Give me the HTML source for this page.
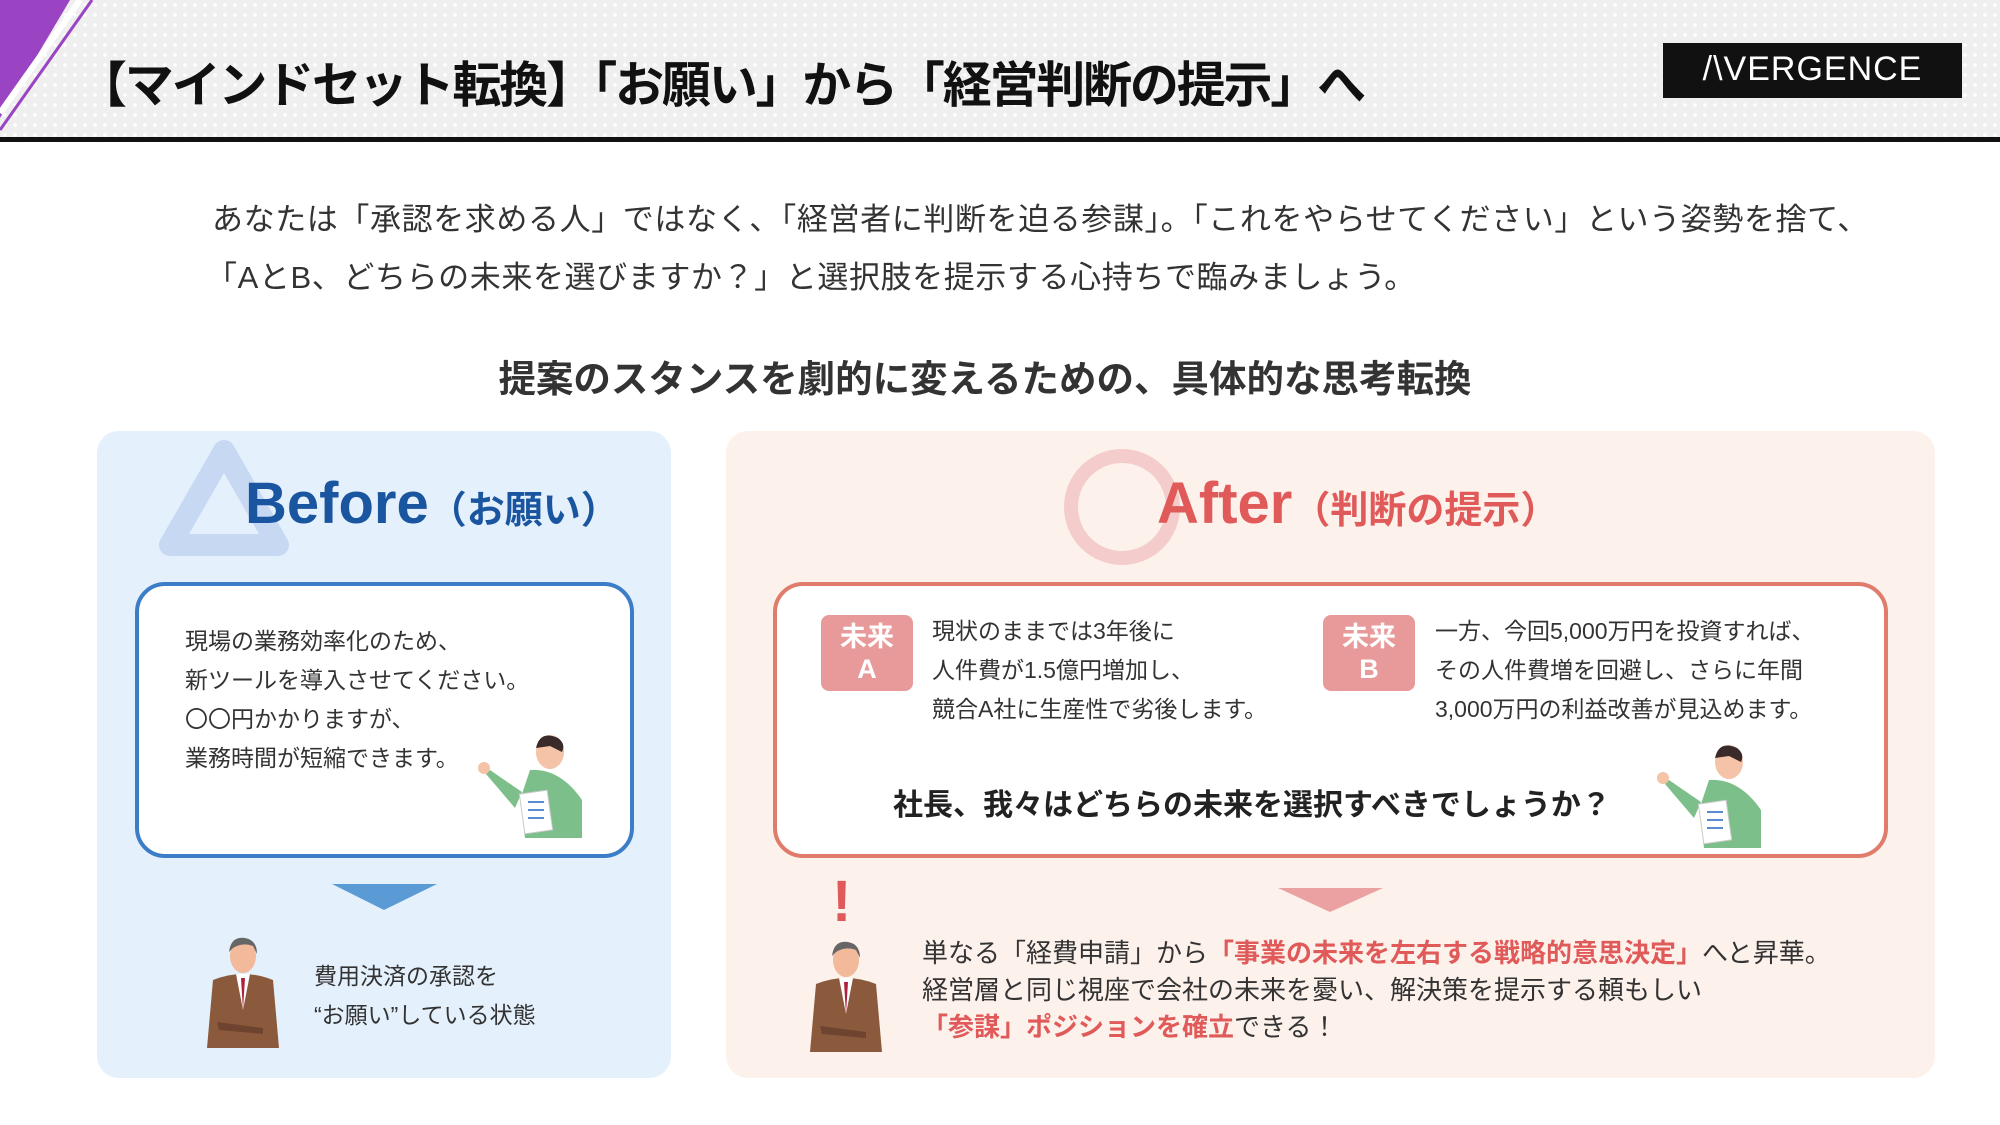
<!DOCTYPE html>
<html><head><meta charset="utf-8"><style>
*{margin:0;padding:0;box-sizing:border-box}
body{width:2000px;height:1125px;position:relative;background:#fff;font-family:"Liberation Sans","Noto Sans CJK JP",sans-serif;overflow:hidden;color:#333}
.abs{position:absolute;white-space:nowrap}
#hdr{position:absolute;left:0;top:0;width:2000px;height:138px;background-color:#efeff0;background-image:radial-gradient(circle,#fff 1.6px,transparent 2px);background-size:10px 10px}
#line{position:absolute;left:0;top:137px;width:2000px;height:5px;background:#111}
.panel{position:absolute;border-radius:22px}
.wbox{position:absolute;background:#fff;border-radius:30px}
.badge{position:absolute;width:92px;height:76px;background:#e89a9a;border-radius:8px;color:#fff;font-weight:bold;font-size:27px;line-height:32px;text-align:center;padding-top:6px}
.red{color:#e05a5a;font-weight:bold}
</style></head><body>
<div id="hdr"></div>
<svg class="abs" style="left:0;top:0" width="100" height="140"><polygon points="0,0 70,0 0,118" fill="#9a44c4"/><line x1="92" y1="0" x2="0" y2="130" stroke="#9a44c4" stroke-width="3"/><line x1="80" y1="0" x2="0" y2="113" stroke="#fff" stroke-width="6"/></svg>
<div id="line"></div>
<div class="abs" style="left:78px;top:46px;font-size:49px;font-weight:bold;color:#111;letter-spacing:-2.2px">【マインドセット転換】「お願い」から「経営判断の提示」へ</div>
<div class="abs" style="left:1663px;top:43px;width:299px;height:55px;background:#111;color:#fff;font-size:34px;line-height:52px;text-align:center;letter-spacing:1px">/\VERGENCE</div>

<div class="abs" style="left:212px;top:194px;font-size:31px;letter-spacing:0.6px;color:#333">あなたは「承認を求める人」ではなく、「経営者に判断を迫る参謀」。「これをやらせてください」という姿勢を捨て、</div>
<div class="abs" style="left:206px;top:252px;font-size:31px;letter-spacing:0.6px;color:#333">「AとB、どちらの未来を選びますか？」と選択肢を提示する心持ちで臨みましょう。</div>
<div class="abs" style="left:0;width:1970px;text-align:center;top:348px;font-size:37.5px;font-weight:bold;color:#333">提案のスタンスを劇的に変えるための、具体的な思考転換</div>

<div class="panel" style="left:97px;top:431px;width:574px;height:647px;background:#e4f0fb"></div>
<div class="panel" style="left:726px;top:431px;width:1209px;height:647px;background:#fdf1ec"></div>

<svg class="abs" style="left:150px;top:435px" width="150" height="125"><polygon points="74,16 20,110 128,110" fill="none" stroke="#c7d8f3" stroke-width="22" stroke-linejoin="round"/></svg>
<div class="abs" style="left:245px;top:470px;color:#1a55a0;font-weight:bold"><span style="font-size:58px">Before</span><span style="font-size:38px">（お願い）</span></div>

<svg class="abs" style="left:1060px;top:445px" width="125" height="125"><circle cx="62" cy="62" r="51" fill="none" stroke="#f4cccc" stroke-width="14"/></svg>
<div class="abs" style="left:1157px;top:470px;color:#e05a5a;font-weight:bold"><span style="font-size:58px">After</span><span style="font-size:38px">（判断の提示）</span></div>

<div class="wbox" style="left:135px;top:582px;width:499px;height:276px;border:4px solid #3c7dc7"></div>
<div class="abs" style="left:185px;top:622px;font-size:23px;line-height:39px;color:#333">現場の業務効率化のため、<br>新ツールを導入させてください。<br>〇〇円かかりますが、<br>業務時間が短縮できます。</div>

<div class="wbox" style="left:773px;top:582px;width:1115px;height:276px;border:4px solid #df7c6c"></div>
<div class="badge" style="left:821px;top:615px">未来<br>A</div>
<div class="badge" style="left:1323px;top:615px">未来<br>B</div>
<div class="abs" style="left:932px;top:612px;font-size:23px;line-height:39px;color:#333">現状のままでは3年後に<br>人件費が1.5億円増加し、<br>競合A社に生産性で劣後します。</div>
<div class="abs" style="left:1435px;top:612px;font-size:23px;line-height:39px;color:#333">一方、今回5,000万円を投資すれば、<br>その人件費増を回避し、さらに年間<br>3,000万円の利益改善が見込めます。</div>
<div class="abs" style="left:893px;top:780px;font-size:30px;font-weight:bold;color:#222">社長、我々はどちらの未来を選択すべきでしょうか？</div>

<svg class="abs" style="left:470px;top:730px" width="120" height="110" viewBox="0 0 120 110">
<path d="M60 40 Q90 38 112 70 L112 108 L55 108 L50 70 Z" fill="#7dbf8a"/>
<path d="M52 62 L20 40 L16 44 L45 78 Z" fill="#7dbf8a"/>
<circle cx="14" cy="38" r="6" fill="#f4c3a8"/>
<ellipse cx="80" cy="22" rx="14" ry="17" fill="#f4c3a8"/>
<path d="M66 18 Q70 0 88 8 Q96 14 92 22 L80 16 Z" fill="#3a2a2a"/>
<rect x="52" y="62" width="28" height="40" fill="#fff" stroke="#ccc" transform="rotate(-8 66 82)"/>
<path d="M58 72h16M58 80h16M58 88h16" stroke="#5a8ad0" stroke-width="2"/>
</svg>
<svg class="abs" style="left:1649px;top:740px" width="120" height="110" viewBox="0 0 120 110">
<path d="M60 40 Q90 38 112 70 L112 108 L55 108 L50 70 Z" fill="#7dbf8a"/>
<path d="M52 62 L20 40 L16 44 L45 78 Z" fill="#7dbf8a"/>
<circle cx="14" cy="38" r="6" fill="#f4c3a8"/>
<ellipse cx="80" cy="22" rx="14" ry="17" fill="#f4c3a8"/>
<path d="M66 18 Q70 0 88 8 Q96 14 92 22 L80 16 Z" fill="#3a2a2a"/>
<rect x="52" y="62" width="28" height="40" fill="#fff" stroke="#ccc" transform="rotate(-8 66 82)"/>
<path d="M58 72h16M58 80h16M58 88h16" stroke="#5a8ad0" stroke-width="2"/>
</svg>

<svg class="abs" style="left:332px;top:884px" width="105" height="28"><polygon points="0,0 105,0 52,26" fill="#5b9bd5"/></svg>
<svg class="abs" style="left:1278px;top:888px" width="105" height="26"><polygon points="0,0 105,0 52,24" fill="#eba1a1"/></svg>
<div class="abs" style="left:832px;top:868px;font-size:58px;font-weight:bold;color:#e05a5a">!</div>

<svg class="abs" style="left:203px;top:930px" width="80" height="120" viewBox="0 0 80 120">
<path d="M10 50 Q40 38 70 50 L76 118 L4 118 Z" fill="#8b5a3c"/>
<path d="M33 44 L40 80 L47 44 Z" fill="#fff"/><path d="M38 48 L40 80 L42 48 Z" fill="#b0203a"/>
<ellipse cx="40" cy="26" rx="13" ry="17" fill="#f2b99a"/>
<path d="M26 22 Q28 6 42 8 Q54 10 54 24 L50 16 Q40 12 30 18 Z" fill="#666"/>
<path d="M14 92 L60 98 L60 104 L16 100 Z" fill="#6e4430"/>
</svg>
<svg class="abs" style="left:806px;top:934px" width="80" height="120" viewBox="0 0 80 120">
<path d="M10 50 Q40 38 70 50 L76 118 L4 118 Z" fill="#8b5a3c"/>
<path d="M33 44 L40 80 L47 44 Z" fill="#fff"/><path d="M38 48 L40 80 L42 48 Z" fill="#b0203a"/>
<ellipse cx="40" cy="26" rx="13" ry="17" fill="#f2b99a"/>
<path d="M26 22 Q28 6 42 8 Q54 10 54 24 L50 16 Q40 12 30 18 Z" fill="#666"/>
<path d="M14 92 L60 98 L60 104 L16 100 Z" fill="#6e4430"/>
</svg>

<div class="abs" style="left:314px;top:957px;font-size:23px;line-height:39px;color:#333">費用決済の承認を<br>“お願い”している状態</div>
<div class="abs" style="left:922px;top:935px;font-size:26px;line-height:37px;color:#333">単なる「経費申請」から<span class="red">「事業の未来を左右する戦略的意思決定」</span>へと昇華。<br>経営層と同じ視座で会社の未来を憂い、解決策を提示する頼もしい<br><span class="red">「参謀」ポジションを確立</span>できる！</div>
</body></html>
